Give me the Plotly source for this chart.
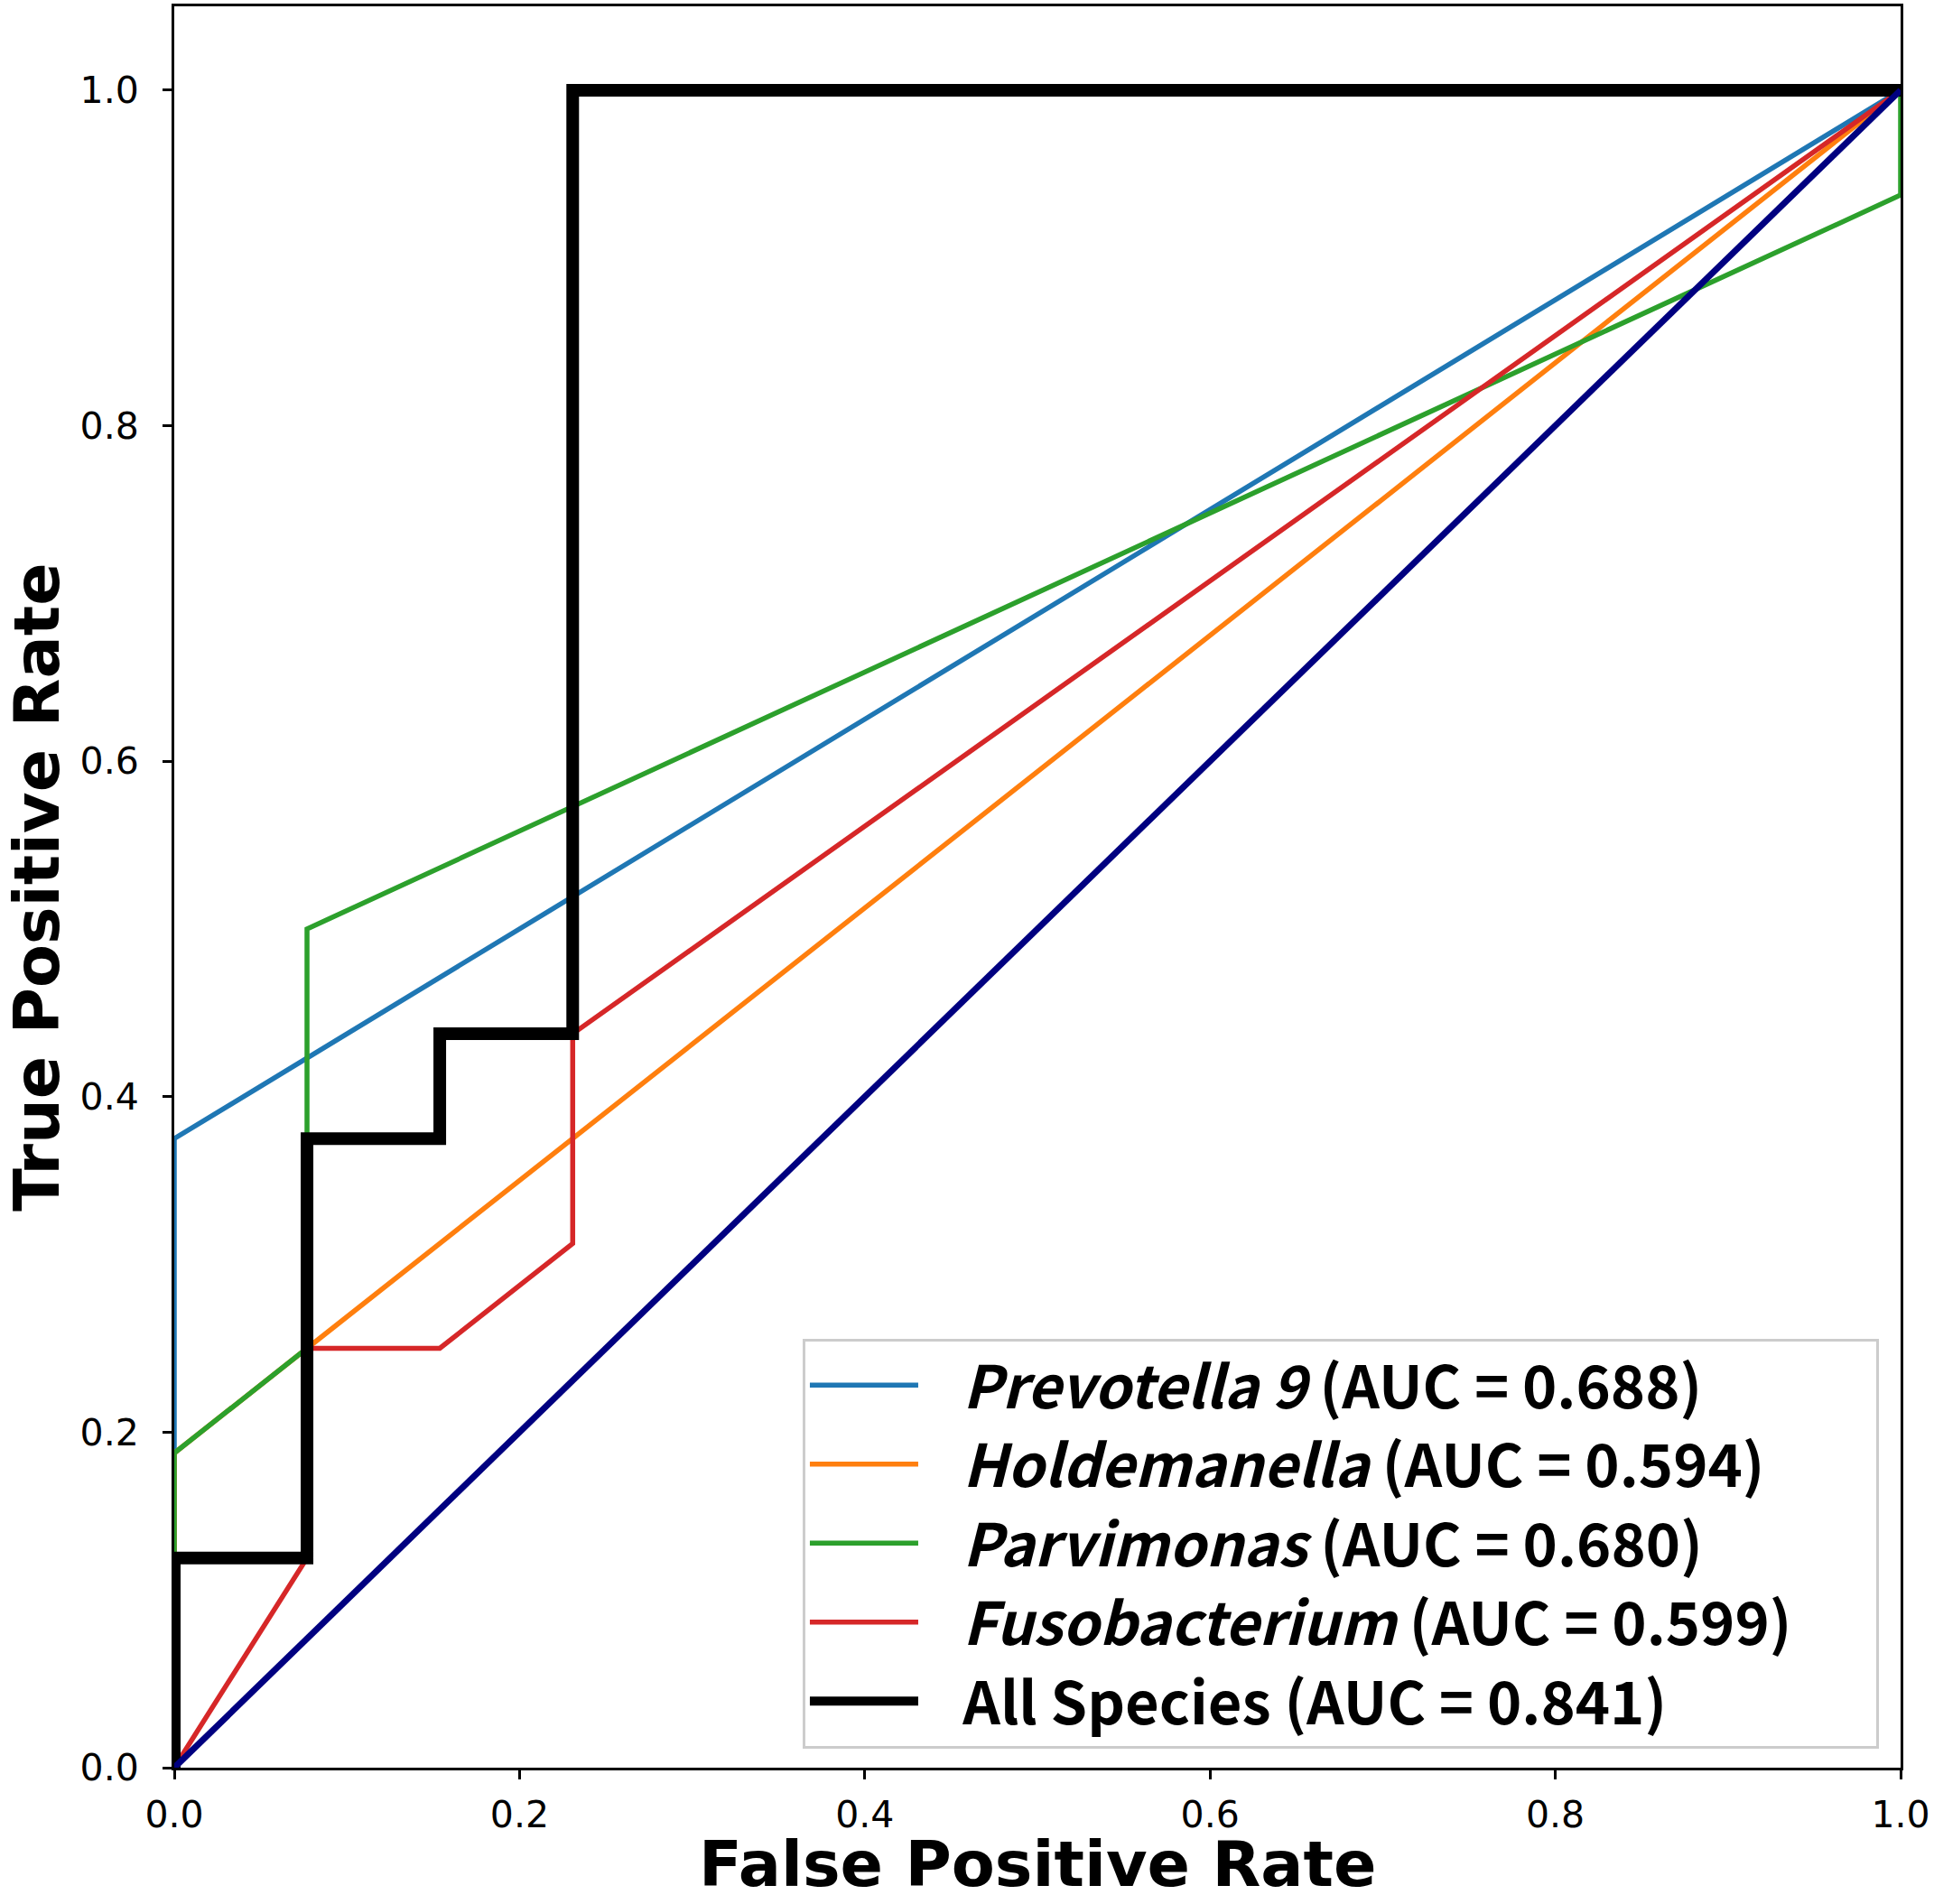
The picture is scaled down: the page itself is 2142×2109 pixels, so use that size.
import plotly.graph_objs as go


# ROC points (fpr, tpr)
prevotella_fpr = [0.0, 0.0, 1.0]
prevotella_tpr = [0.0, 0.375, 1.0]

holdemanella_fpr = [0.0, 0.0, 0.0769, 1.0]
holdemanella_tpr = [0.0, 0.1875, 0.25, 1.0]

parvimonas_fpr = [0.0, 0.0, 0.0769, 0.0769, 1.0, 1.0]
parvimonas_tpr = [0.0, 0.1875, 0.25, 0.5, 0.9375, 1.0]

fuso_fpr = [0.0, 0.0769, 0.0769, 0.1538, 0.2308, 0.2308, 1.0]
fuso_tpr = [0.0, 0.125, 0.25, 0.25, 0.3125, 0.4375, 1.0]

all_fpr = [0.0, 0.0, 0.0769, 0.0769, 0.1538, 0.1538, 0.2308, 0.2308, 1.0]
all_tpr = [0.0, 0.125, 0.125, 0.375, 0.375, 0.4375, 0.4375, 1.0, 1.0]

chance_fpr = [0.0, 1.0]
chance_tpr = [0.0, 1.0]

names = [
    '<i>Prevotella 9</i> (AUC = 0.688)',
    '<i>Holdemanella</i> (AUC = 0.594)',
    '<i>Parvimonas</i> (AUC = 0.680)',
    '<i>Fusobacterium</i> (AUC = 0.599)',
    'All Species (AUC = 0.841)',
]

tick_vals = [0.0, 0.2, 0.4, 0.6, 0.8, 1.0]
tick_text = ['0.0', '0.2', '0.4', '0.6', '0.8', '1.0']

# a bit of room between the legend line and its text, and on the right
pad_left = '\u00a0\u00a0\u00a0'
pad_right = '\u00a0' * 6


def roc_trace(x, y, name, color, width, legend=True):
    return go.Scatter(
        x=x,
        y=y,
        name=pad_left + name + pad_right,
        mode='lines',
        showlegend=legend,
        line=dict(
            color=color,
            width=width),
    )


traces = [
    roc_trace(prevotella_fpr, prevotella_tpr, names[0], '#1f77b4', 5.5),
    roc_trace(holdemanella_fpr, holdemanella_tpr, names[1], '#ff7f0e', 5.5),
    roc_trace(parvimonas_fpr, parvimonas_tpr, names[2], '#2ca02c', 5.5),
    roc_trace(fuso_fpr, fuso_tpr, names[3], '#d62728', 5.5),
    roc_trace(all_fpr, all_tpr, names[4], 'black', 14),
    roc_trace(chance_fpr, chance_tpr, '', 'navy', 7, legend=False),
]

axis_common = dict(
    tickvals=tick_vals,
    ticktext=tick_text,
    ticks='outside',
    ticklen=10,
    tickwidth=3,
    tickcolor='black',
    tickfont=dict(family='DejaVu Sans', size=41, color='black'),
    showline=True,
    linecolor='black',
    linewidth=3,
    mirror=True,
    showgrid=False,
    zeroline=False,
    automargin=False,
)

fig = go.Figure(
    data=traces,
    layout=go.Layout(
        width=2142,
        height=2109,
        margin=dict(l=193, r=37, t=7, b=151),
        paper_bgcolor='white',
        plot_bgcolor='white',
        xaxis=dict(
            range=[0, 1.0],
            ticklabelstandoff=4,
            **axis_common,
        ),
        yaxis=dict(
            range=[0, 1.05],
            title=dict(
                text='<b>True Positive Rate</b>',
                font=dict(family='DejaVu Sans', size=70, color='black'),
                standoff=22,
            ),
            ticklabelstandoff=18,
            **axis_common,
        ),
        # x title as an annotation so it can sit right at the bottom edge
        annotations=[
            dict(
                text='<b>False Positive Rate</b>',
                x=0.5,
                y=0,
                xref='paper',
                yref='paper',
                xanchor='center',
                yanchor='bottom',
                yshift=-150,
                showarrow=False,
                font=dict(family='DejaVu Sans', size=70, color='black'),
            ),
        ],
        legend=dict(
            x=0.364,
            y=0.2437,
            xanchor='left',
            yanchor='top',
            bgcolor='white',
            bordercolor='#cccccc',
            borderwidth=3,
            itemwidth=120,
            font=dict(family='Noto Sans CJK KR', size=65, color='black', weight='bold'),
        ),
    ),
)

fig.write_html(
    "out.html",
    config=dict(displayModeBar=False),
    post_script="document.body.style.margin='0';",
)
